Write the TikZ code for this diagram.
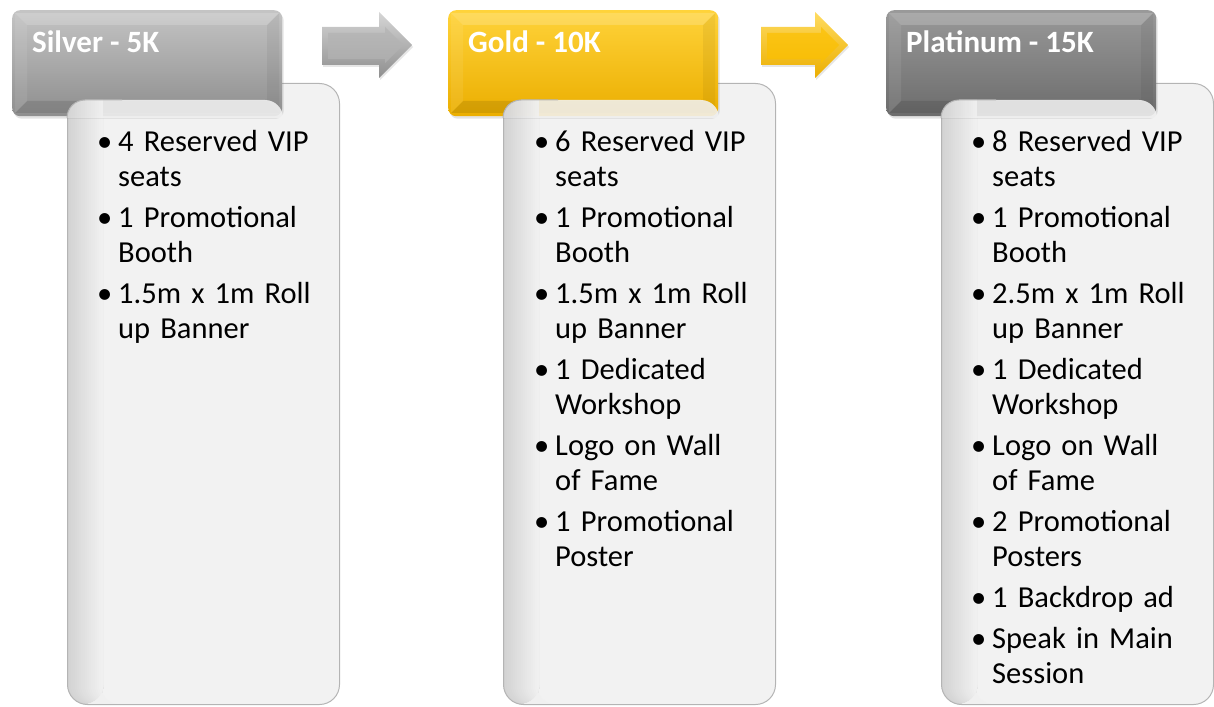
\documentclass[tikz,border=0pt]{standalone}
\usepackage{fontspec}
\setmainfont{Carlito}
\usetikzlibrary{shadows}
\definecolor{cardgray}{HTML}{F2F2F2}
\definecolor{cardedge}{HTML}{D2D2D2}
\definecolor{cardline}{HTML}{B4B4B4}
\definecolor{silvtop}{HTML}{C4C4C4}
\definecolor{silvmid}{HTML}{A6A6A6}
\definecolor{silvbot}{HTML}{8E8E8E}
\definecolor{goldtop}{HTML}{FFD33A}
\definecolor{goldmid}{HTML}{FCC000}
\definecolor{goldbot}{HTML}{EBAE00}
\definecolor{plattop}{HTML}{999999}
\definecolor{platmid}{HTML}{7F7F7F}
\definecolor{platbot}{HTML}{6C6C6C}
\tikzset{
  hdrbox/.style={rounded corners=8pt, minimum width=270pt, minimum height=106pt, inner sep=0pt},
  cardbox/.style={rounded corners=20pt, minimum width=272pt, minimum height=621pt, inner sep=0pt,
    fill=cardgray, draw=cardline, line width=1pt,
    path picture={\foreach \i in {0,...,17}{\pgfmathsetmacro\pct{5.6*\i}
      \fill[cardgray!\pct!cardedge] ([xshift=2*\i pt-1pt]path picture bounding box.north west) rectangle ([xshift=36pt]path picture bounding box.south west);}}},
  titletext/.style={inner sep=0pt, text=white, font=\fontsize{31}{33}\selectfont\bfseries},
  listtext/.style={inner sep=0pt, text width=245pt, font=\fontsize{30.5}{35}\selectfont},
  facetlight/.style={fill=white, opacity=0.18},
  facetdark/.style={fill=black, opacity=0.10},
}
\newcommand\tieritem[2]{\par\hangindent=21pt\hangafter=1\noindent\makebox[21pt][l]{\strut•}#1\newline\strut#2\par}
\newcommand\tieritemone[1]{\par\hangindent=21pt\hangafter=1\noindent\makebox[21pt][l]{\strut•}#1\par}
\newcommand\liststart{\raggedright\setlength\parskip{6pt}}
% #1 x0, #2 name, #3 top, #4 mid, #5 bottom, #6 title
\newcommand\drawtier[6]{%
  \node[cardbox, anchor=north west] (#2card) at (#1+55,83) {};
  \node[hdrbox, top color=#3, middle color=#4, bottom color=#5, anchor=north west,
        drop shadow={opacity=0.22, shadow xshift=1.5pt, shadow yshift=-2.5pt}] (#2head) at (#1,10) {};
  \fill[facetlight] (#1+3,13) -- (#1+267,13) -- (#1+255,25) -- (#1+15,25) -- cycle;
  \fill[white, opacity=0.08] (#1+3,13) -- (#1+15,25) -- (#1+15,101) -- (#1+3,113) -- cycle;
  \fill[black, opacity=0.05] (#1+267,13) -- (#1+255,25) -- (#1+255,101) -- (#1+267,113) -- cycle;
  \fill[facetdark] (#1+3,113) -- (#1+267,113) -- (#1+255,101) -- (#1+15,101) -- cycle;
  \begin{scope}
    \clip (#1+55,118) [rounded corners=18pt] -- (#1+55,100) -- (#1+271,100) [sharp corners] -- (#1+271,118) -- cycle;
    \fill[cardgray, opacity=0.88] (#1+50,95) rectangle (#1+275,120);
    \foreach \i in {0,...,17}{\pgfmathsetmacro\pct{5.6*\i}
      \fill[cardgray!\pct!cardedge, opacity=0.88] (#1+55+2*\i,95) rectangle (#1+57.4+2*\i,120);}
  \end{scope}
  \draw[cardline, line width=1pt] (#1+55,118) [rounded corners=18pt] -- (#1+55,100) -- (#1+110,100);
  \node[titletext, anchor=base west] (#2title) at (#1+20,53) {#6};
}
\begin{document}
\begin{tikzpicture}[x=1pt,y=-1pt]
\useasboundingbox (0,0) rectangle (1214,706);
\drawtier{12}{silver}{silvtop}{silvmid}{silvbot}{Silver - 5K}
\drawtier{448}{gold}{goldtop}{goldmid}{goldbot}{Gold - 10K}
\drawtier{886}{plat}{plattop}{platmid}{platbot}{Platinum - 15K}

\node[listtext, anchor=north west] (silverlist) at (97,110.5) {\liststart
\tieritem{4 Reserved VIP}{seats}
\tieritem{1 Promotional}{Booth}
\tieritem{1.5m x 1m Roll}{up Banner}};
\node[listtext, anchor=north west] (goldlist) at (534,110.5) {\liststart
\tieritem{6 Reserved VIP}{seats}
\tieritem{1 Promotional}{Booth}
\tieritem{1.5m x 1m Roll}{up Banner}
\tieritem{1 Dedicated}{Workshop}
\tieritem{Logo on Wall}{of Fame}
\tieritem{1 Promotional}{Poster}};
\node[listtext, anchor=north west] (platlist) at (971,110.5) {\liststart
\tieritem{8 Reserved VIP}{seats}
\tieritem{1 Promotional}{Booth}
\tieritem{2.5m x 1m Roll}{up Banner}
\tieritem{1 Dedicated}{Workshop}
\tieritem{Logo on Wall}{of Fame}
\tieritem{2 Promotional}{Posters}
\tieritemone{1 Backdrop ad}
\tieritem{Speak in Main}{Session}};

% arrows between tiers
\shade[top color=silvtop!70!white, middle color=silvmid!80!white, bottom color=silvbot,
       drop shadow={opacity=0.2, shadow xshift=1pt, shadow yshift=-2pt}]
  (322,27) -- (379,27) -- (379,12) -- (412,45) -- (379,78) -- (379,65) -- (322,65) -- cycle;
\fill[silvmid!85!white, opacity=0.7] (328,33) -- (385,33) -- (385,27) -- (403,45) -- (385,63) -- (385,59) -- (328,59) -- cycle;
\shade[top color=goldtop!80!white, middle color=goldmid, bottom color=goldbot,
       drop shadow={opacity=0.2, shadow xshift=1pt, shadow yshift=-2pt}]
  (761,27) -- (815,27) -- (815,12) -- (848,45) -- (815,78) -- (815,65) -- (761,65) -- cycle;
\fill[goldmid, opacity=0.7] (767,33) -- (821,33) -- (821,27) -- (839,45) -- (821,63) -- (821,59) -- (767,59) -- cycle;
\end{tikzpicture}
\end{document}
